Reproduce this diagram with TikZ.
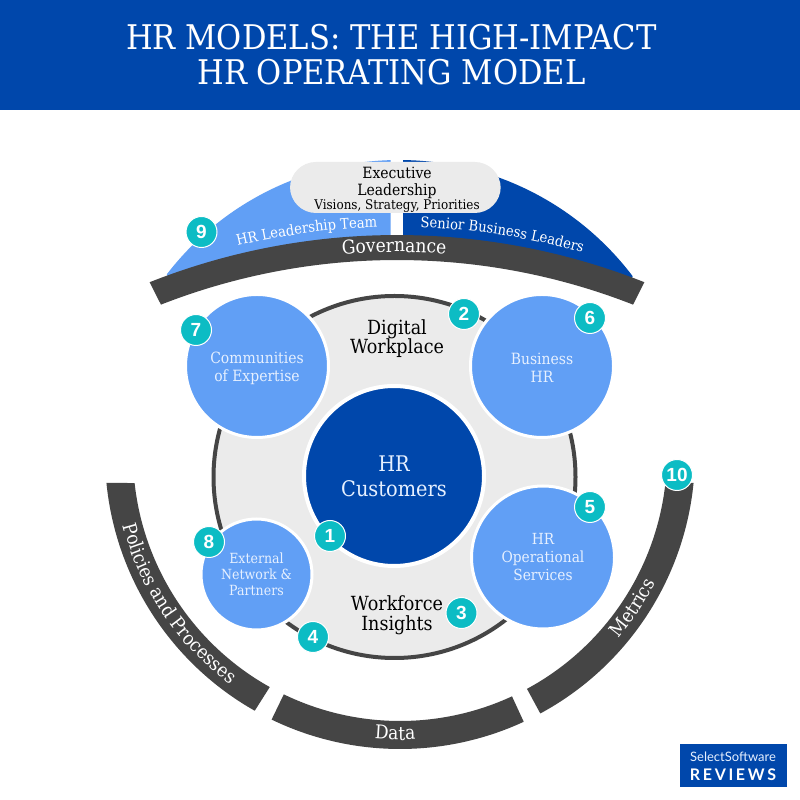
\documentclass[tikz,border=0pt]{standalone}
\usepackage{fontspec}
\setmainfont[FakeStretch=0.9]{DejaVu Serif}
\newfontfamily\badgefont{Liberation Sans}
\newfontfamily\logofont{Lato}
\usetikzlibrary{decorations.text}
\definecolor{darkblue}{HTML}{0047AB}
\definecolor{lightblue}{HTML}{619FF5}
\definecolor{softgrey}{HTML}{EBEBEB}
\definecolor{band}{HTML}{454545}
\definecolor{teal}{HTML}{0CBCC4}
\definecolor{paleblue}{HTML}{E6F0FF}
\newcommand{\bandfont}{\fontsize{19}{21}\selectfont\color{white}}
\newcommand{\teamfont}{\fontsize{14.6}{17}\selectfont\color{white}}
\tikzset{
	badge/.style={circle, fill=teal, draw=white, line width=1pt, minimum size=31pt, inner sep=0pt, text=white, font=\badgefont\bfseries\fontsize{19}{19}\selectfont},
	unit/.style={circle, fill=lightblue, draw=white, line width=3pt, text=paleblue, align=center, inner sep=0pt},
	caption/.style={align=center, font=\fontsize{19.5}{19.5}\selectfont},
	curved/.style={decorate, decoration={text along path, text align=center, text={#1}}}
}
\begin{document}
\begin{tikzpicture}[x=1pt, y=1pt]
	\useasboundingbox (0,0) rectangle (800,800);
	\fill[white] (0,0) rectangle (800,800);
	\fill[darkblue] (0,690) rectangle (800,800);
	\node[text=white, align=center, font=\fontsize{34}{35}\selectfont] (title) at (391.5,745) {HR MODELS: THE HIGH-IMPACT\\HR OPERATING MODEL};

	\begin{scope}[shift={(399,347)}]
		\fill[lightblue] (142.4:293) arc (142.4:91.64:293) -- (-8.4,203) -- (-229,168) -- cycle;
		\fill[darkblue] (89.2:293) arc (89.2:37.1:293) -- (230,168) -- (4,203) -- cycle;
	\end{scope}
	\fill[softgrey, rounded corners=26pt] (290,638) rectangle (500.7,587);
	\node[align=center, font=\fontsize{15.5}{17}\selectfont] (executive) at (397,617) {Executive\\Leadership};
	\node[font=\fontsize{13.3}{14}\selectfont] (visions) at (397,594) {Visions, Strategy, Priorities};

	\begin{scope}[shift={(397,-107)}]
		\fill[band] (111.6:672) arc (111.6:68.4:672) -- (68.6:647) arc (68.6:111.4:647) -- cycle;
		\path[curved={|\bandfont|Governance}] (96.5:655) arc (96.5:84:655);
		\path[curved={|\teamfont|HR Leadership Team}] (105:680) arc (105:90.2:680);
		\path[curved={|\teamfont|Senior Business Leaders}] (89:680) arc (89:73.2:680);
	\end{scope}

	\begin{scope}[shift={(400,346)}]
		\fill[band] (185.64:295) arc (185.64:240.5:295) -- (240.8:267) arc (240.8:186.24:267) -- cycle;
		\fill[band] (244.2:295) arc (244.2:294.8:295) -- (294.8:267) arc (294.8:244.2:267) -- cycle;
		\fill[band] (298.4:295) arc (298.4:354.36:295) -- (353.76:267) arc (353.76:298.4:267) -- cycle;
		\path[curved={|\bandfont|Policies and Processes}] (190:286) arc (190:238:286);
		\path[curved={|\bandfont|Data}] (255:286) arc (255:283:286);
		\path[curved={|\bandfont|Metrics}] (305:286) arc (305:348:286);
	\end{scope}

	\filldraw[fill=softgrey, draw=band, line width=4pt] (394.5,323) circle (181);
	\node[circle, fill=darkblue, draw=white, line width=4pt, minimum size=180pt, inner sep=0pt, text=paleblue, align=center, font=\fontsize{21.5}{25}\selectfont] (customers) at (394,324) {HR\\Customers};

	\node[unit, minimum size=143pt, font=\fontsize{15.5}{18}\selectfont] (expertise) at (257,434) {\rule{0pt}{15.5pt}Communities\\of Expertise};
	\node[unit, minimum size=143pt, font=\fontsize{15.5}{18}\selectfont] (business) at (542,434) {\rule{0pt}{15.5pt}Business\\HR};
	\node[unit, minimum size=143pt, font=\fontsize{15.3}{18}\selectfont] (operational) at (543,242.5) {HR\\Operational\\Services};
	\node[unit, minimum size=111pt, font=\fontsize{14}{16}\selectfont] (external) at (256.5,225.5) {External\\Network \&\\Partners};

	\node[caption] (digital) at (397,461.5) {Digital\\Workplace};
	\node[caption] (workforce) at (397,184.5) {Workforce\\Insights};

	\foreach \n/\x/\y in {1/330/264, 2/464/486, 3/461.5/187, 4/313/163, 5/590/293, 6/590/482, 7/196/470, 8/209/258, 9/201.5/568, 10/677/325}
		\node[badge] (badge\n) at (\x,\y) {\n};

	\fill[darkblue] (679.5,13) rectangle (786.7,56);
	\node[text=paleblue, font=\logofont\fontsize{13}{14}\selectfont] (select) at (733,43) {SelectSoftware};
	\node[text=white, font=\logofont\bfseries\fontsize{16}{16}\selectfont] (reviews) at (733,25) {R\,E\,V\,I\,E\,W\,S};
\end{tikzpicture}
\end{document}
